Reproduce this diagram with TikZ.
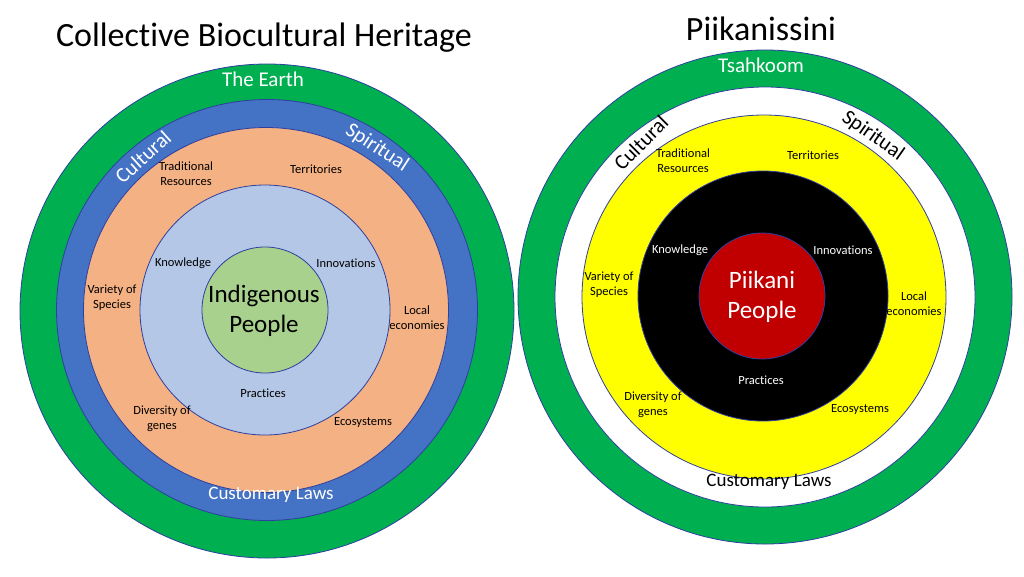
\documentclass[tikz,border=0pt]{standalone}
\usepackage{fontspec}
\setmainfont{Carlito}[Ligatures=NoCommon]
\definecolor{earthgreen}{HTML}{00B050}
\definecolor{ringblue}{HTML}{4472C4}
\definecolor{ringorange}{HTML}{F4B183}
\definecolor{ringlightblue}{HTML}{B4C7E7}
\definecolor{ringlightgreen}{HTML}{A9D18E}
\definecolor{ringyellow}{HTML}{FFFF00}
\definecolor{ringred}{HTML}{C00000}
\definecolor{ringline}{HTML}{2F3F9F}
\begin{document}
\begin{tikzpicture}[x=1pt,y=-1pt,
  ring/.style={circle, draw=ringline, line width=0.8pt, inner sep=0pt, minimum size=#1},
  titletext/.style={font=\fontsize{34}{40}\selectfont, inner sep=0pt},
  bandtext/.style={font=\fontsize{21}{25}\selectfont, inner sep=0pt},
  lawtext/.style={font=\fontsize{19}{23}\selectfont, inner sep=0pt},
  smalltext/.style={font=\fontsize{12.5}{15.2}\selectfont, align=center, inner sep=0pt},
  coretext/.style={font=\fontsize{25}{30}\selectfont, align=center, inner sep=0pt}]
\useasboundingbox (0,0) rectangle (1024,576);
\fill[white] (0,0) rectangle (1024,576);

% ---------- Left diagram ----------
\node[ring=494pt, fill=earthgreen] (Lg) at (267,311) {};
\node[ring=421pt, fill=ringblue] (Lb) at (267,310) {};
\node[ring=365pt, fill=ringorange] (Lo) at (266,310) {};
\node[ring=250pt, fill=ringlightblue] (Ll) at (265,310) {};
\node[ring=126pt, fill=ringlightgreen] (Lc) at (265,310) {};

\node[titletext] (Ltitle) at (264,38) {Collective Biocultural Heritage};
\node[bandtext, text=white] (Learth) at (263,79) {The Earth};
\node[bandtext, text=white, rotate=42] (Lcult) at (143,157) {Cultural};
\node[bandtext, text=white, rotate=-33] (Lspir) at (377,148) {Spiritual};
\node[lawtext, text=white] (Llaw) at (271,495) {Customary Laws};

\node[smalltext] (Ltrad) at (186,174) {Traditional\\Resources};
\node[smalltext] (Lterr) at (316,169) {Territories};
\node[smalltext] (Lknow) at (183,263) {Knowledge};
\node[smalltext] (Linno) at (346,263) {Innovations};
\node[smalltext] (Lvar) at (112,298) {Variety of\\Species};
\node[smalltext] (Lloc) at (417,318) {Local\\economies};
\node[smalltext] (Lprac) at (263,393) {Practices};
\node[smalltext] (Ldiv) at (162,419) {Diversity of\\genes};
\node[smalltext] (Leco) at (363,422) {Ecosystems};
\node[coretext] (Lcore) at (264,311) {Indigenous\\People};

% ---------- Right diagram ----------
\node[ring=494pt, fill=earthgreen] (Rg) at (765,297) {};
\node[ring=420pt, fill=white] (Rw) at (765,297) {};
\node[ring=364pt, fill=ringyellow] (Ry) at (764,297) {};
\node[ring=250pt, fill=black] (Rk) at (763,296) {};
\node[ring=126pt, fill=ringred] (Rc) at (762,296) {};

\node[titletext] (Rtitle) at (761,29) {Piikanissini};
\node[bandtext, text=white] (Rearth) at (761,65) {Tsahkoom};
\node[bandtext, rotate=45] (Rcult) at (641,143) {Cultural};
\node[bandtext, rotate=-35] (Rspir) at (873,136) {Spiritual};
\node[lawtext] (Rlaw) at (769,482) {Customary Laws};

\node[smalltext] (Rtrad) at (683,161) {Traditional\\Resources};
\node[smalltext] (Rterr) at (813,155) {Territories};
\node[smalltext, text=white] (Rknow) at (680,250) {Knowledge};
\node[smalltext, text=white] (Rinno) at (843,250) {Innovations};
\node[smalltext] (Rvar) at (609,285) {Variety of\\Species};
\node[smalltext] (Rloc) at (914,304) {Local\\economies};
\node[smalltext, text=white] (Rprac) at (761,380) {Practices};
\node[smalltext] (Rdiv) at (653,405) {Diversity of\\genes};
\node[smalltext] (Reco) at (860,409) {Ecosystems};
\node[coretext, text=white] (Rcore) at (762,297) {Piikani\\People};
\end{tikzpicture}
\end{document}
